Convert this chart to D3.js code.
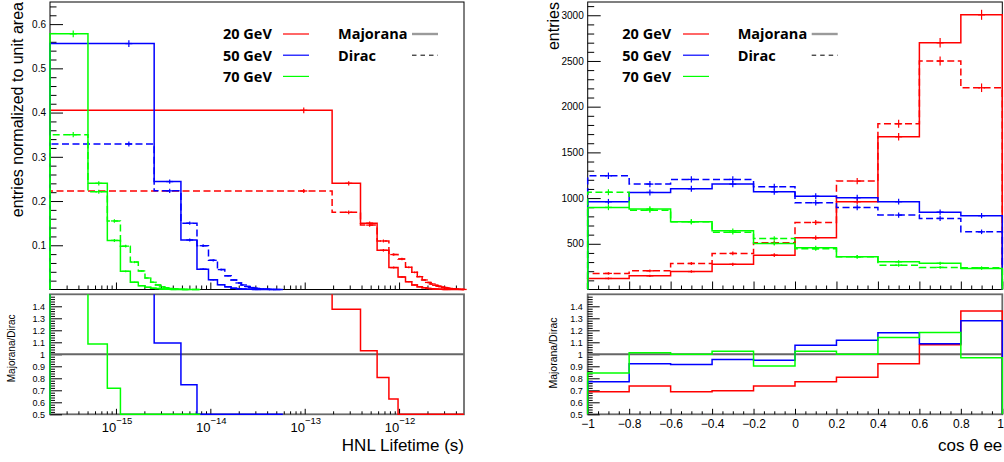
<!DOCTYPE html>
<html><head><meta charset="utf-8">
<script src="https://cdn.jsdelivr.net/npm/d3@7"></script>
<style>
html,body{margin:0;padding:0;background:#fff;}
svg{display:block;}
text{font-family:"Liberation Sans",Arial,Helvetica,sans-serif;fill:#000;}
text.leg{font-family:"Open Sans","Noto Sans",sans-serif;font-weight:700;}
</style></head><body>
<svg id="c" width="1004" height="462"></svg>
<script>
// ---------------- data ----------------
const massLabels = ["20 GeV", "50 GeV", "70 GeV"];
const typeLabels = ["Majorana", "Dirac"];

// HNL lifetime histograms (normalized to unit area), 25 bins each
const lifetimeBinStart = 2e-16;
const lifetimeBinWidth = [1.95e-13, 2.34e-15, 3.05e-16]; // 20, 50, 70 GeV
const lifetimeEntries = 10000;
const lifetimeMajorana20 = [0.405,0.240,0.150,0.0886,0.0495,0.0284,0.0178,0.0103,0.0060,0.0040,0.0025,0.0015,0.0010,0.0006,0.0004,0.0002,0.0001,0,0,0,0,0,0,0,0];
const lifetimeDirac20    = [0.2227,0.1745,0.1456,0.1097,0.0790,0.0690,0.0502,0.0389,0.0291,0.0216,0.0160,0.0125,0.0095,0.0075,0.0060,0.0045,0.0035,0.0025,0.0018,0.0012,0.0008,0.0005,0.0003,0.0002,0.0001];
const lifetimeMajorana50 = [0.556,0.244,0.112,0.046,0.022,0.011,0.006,0.003,0.0015,0.0010,0.0005,0.0003,0.0002,0.0001,0,0,0,0,0,0,0,0,0,0,0];
const lifetimeDirac50    = [0.329,0.223,0.150,0.099,0.066,0.045,0.031,0.0216,0.0148,0.0103,0.0070,0.0045,0.0030,0.0020,0.0013,0.0008,0.0005,0.0003,0.0002,0.0001,0,0,0,0,0];
const lifetimeMajorana70 = [0.578,0.240,0.111,0.041,0.0164,0.0087,0.0050,0.0030,0.0020,0.0010,0.0005,0.0003,0.0001,0,0,0,0,0,0,0,0,0,0,0,0];
const lifetimeDirac70    = [0.350,0.221,0.155,0.098,0.062,0.042,0.026,0.0164,0.0103,0.0060,0.0040,0.0025,0.0015,0.0010,0.0006,0.0003,0.0002,0.0001,0,0,0,0,0,0,0];

// cos theta ee histograms (entries)
const cosBinEdges = [-1,-0.8,-0.6,-0.4,-0.2,0,0.2,0.4,0.6,0.8,1];
const cosMajorana20 = [121,150,196,275,376,566,960,1671,2699,3005];
const cosDirac20    = [176,204,285,395,511,734,1186,1813,2499,2207];
const cosMajorana50 = [960,1062,1102,1153,1068,1020,1004,961,846,808];
const cosDirac50    = [1244,1153,1204,1204,1124,949,898,814,778,631];
const cosMajorana70 = [898,880,741,642,504,456,358,303,286,231];
const cosDirac70    = [1064,868,741,626,558,445,358,266,242,238];

// tick labels
const lifetimeTickExponents = [-15,-14,-13,-12];
const lifetimeYTicks = [0.1,0.2,0.3,0.4,0.5,0.6];
const ratioYTicks = [0.5,0.6,0.7,0.8,0.9,1,1.1,1.2,1.3,1.4];
const cosYTicks = [500,1000,1500,2000,2500,3000];
const cosXTicks = [-1,-0.8,-0.6,-0.4,-0.2,0,0.2,0.4,0.6,0.8,1];

// ---------------- layout ----------------
const svg = d3.select("#c");
const LP = {x0:50, x1:464}, RP = {x0:587.7, x1:1002.3};
const TOP = {y0:2, y1:289.5}, LOW = {y0:294.3, y1:414.3};
const colors = ["#ff0000", "#0000ff", "#00ff00"];
const DASH = "7,3.5";

const nL = lifetimeMajorana20.length;
const lifeEdges = lifetimeBinWidth.map(w => d3.range(nL + 1).map(k => lifetimeBinStart + k * w));
const xL = d3.scaleLog().domain([lifetimeBinStart, d3.max(lifeEdges, e => e[nL])]).range([LP.x0, LP.x1]);
const yL = d3.scaleLinear().domain([0, 0.65]).range([TOP.y1, TOP.y0]);
const yLR = d3.scaleLinear().domain([0.5, 1.5]).range([LOW.y1, LOW.y0]);
const xR = d3.scaleLinear().domain([cosBinEdges[0], cosBinEdges[cosBinEdges.length - 1]]).range([RP.x0, RP.x1]);
const yR = d3.scaleLinear().domain([0, 3145]).range([TOP.y1, TOP.y0]);
const yRR = yLR.copy();

const lifeMaj = [lifetimeMajorana20, lifetimeMajorana50, lifetimeMajorana70];
const lifeDir = [lifetimeDirac20, lifetimeDirac50, lifetimeDirac70];
const cosMaj = [cosMajorana20, cosMajorana50, cosMajorana70];
const cosDir = [cosDirac20, cosDirac50, cosDirac70];

// ---------------- helpers ----------------
function axis(gen, tx, ty, vals, size, fmt, fontSize, pad) {
  const g = svg.append("g").attr("transform", `translate(${tx},${ty})`);
  g.call(gen.tickValues(vals).tickSize(size).tickPadding(pad || 3).tickFormat(fmt || ""));
  g.select(".domain").remove();
  g.attr("font-family", null).attr("font-size", fontSize || 10);
  g.selectAll("line").attr("stroke", "#000").attr("stroke-width", 1);
  return g;
}
function minorLin(lo, hi, step, majorStep) {
  const out = [];
  const n = Math.round((hi - lo) / step);
  for (let i = 0; i <= n; i++) {
    const v = lo + i * step;
    const r = v / majorStep;
    if (Math.abs(r - Math.round(r)) > 1e-6) out.push(+v.toFixed(6));
  }
  return out;
}
function stepPath(edges, vals, xs, ys, lo) {
  const cl = v => Math.max(v, lo);
  let p = `M${xs(edges[0])},${ys(lo)}`;
  vals.forEach((v, i) => { p += `V${ys(cl(v))}H${xs(edges[i + 1])}`; });
  p += `V${ys(lo)}`;
  return p;
}
function drawHist(g, edges, vals, xs, ys, lo, color, dashed, errFn) {
  g.append("path").attr("d", stepPath(edges, vals, xs, ys, lo))
    .attr("fill", "none").attr("stroke", color).attr("stroke-width", 1.5)
    .attr("stroke-dasharray", dashed ? DASH : null);
  if (errFn) {
    vals.forEach((v, i) => {
      if (v <= 0) return;
      const c = xs((edges[i] + edges[i + 1]) / 2);
      const e = errFn(v);
      g.append("line").attr("x1", c).attr("x2", c).attr("y1", ys(v - e)).attr("y2", ys(v + e))
        .attr("stroke", color).attr("stroke-width", 1.2);
      g.append("line").attr("x1", c - 3.5).attr("x2", c + 3.5).attr("y1", ys(v)).attr("y2", ys(v))
        .attr("stroke", color).attr("stroke-width", 1.3);
    });
  }
}
const ratioFmt = d => d === 1 ? "1" : d3.format(".1f")(d);

// clip paths for ratio panels
const defs = svg.append("defs");
defs.append("clipPath").attr("id", "clipLR").append("rect")
  .attr("x", LP.x0 - 2).attr("y", LOW.y0).attr("width", LP.x1 - LP.x0 + 4).attr("height", LOW.y1 - LOW.y0 + 2);
defs.append("clipPath").attr("id", "clipRR").append("rect")
  .attr("x", RP.x0 - 2).attr("y", LOW.y0).attr("width", RP.x1 - RP.x0 + 4).attr("height", LOW.y1 - LOW.y0 + 2);

// ---------------- frames ----------------
function frame(P, Y, stroke, sw) {
  svg.append("rect").attr("x", P.x0).attr("y", Y.y0).attr("width", P.x1 - P.x0).attr("height", Y.y1 - Y.y0)
    .attr("fill", "none").attr("stroke", stroke).attr("stroke-width", sw);
}
frame(LP, TOP, "#000", 1);
frame(RP, TOP, "#000", 1);
frame(LP, LOW, "#6a6a6a", 1.8);
frame(RP, LOW, "#6a6a6a", 1.8);

// ---------------- axes: left ----------------
const logMajors = lifetimeTickExponents.map(e => Math.pow(10, e));
const logMinors = [];
for (let e = -16; e <= -12; e++) for (let k = 2; k <= 9; k++) {
  const v = k * Math.pow(10, e);
  if (v >= xL.domain()[0] && v <= xL.domain()[1]) logMinors.push(v);
}
axis(d3.axisLeft(yL), LP.x0, 0, lifetimeYTicks, -13, d3.format(".1f"), 10, 4);
axis(d3.axisLeft(yL), LP.x0, 0, minorLin(0, 0.64, 0.02, 0.1), -6.5, "", 10);
axis(d3.axisBottom(xL), 0, TOP.y1, logMajors, -7, "", 10);
axis(d3.axisBottom(xL), 0, TOP.y1, logMinors, -4, "", 10);

axis(d3.axisLeft(yLR), LP.x0, 0, ratioYTicks, -12, ratioFmt, 9, 5);
axis(d3.axisLeft(yLR), LP.x0, 0, minorLin(0.5, 1.5, 0.02, 0.1), -5, "", 9);
axis(d3.axisBottom(xL), 0, LOW.y1, logMajors, -5.5, "", 10);
axis(d3.axisBottom(xL), 0, LOW.y1, logMinors, -3, "", 10);

lifetimeTickExponents.forEach(e => {
  const t = svg.append("text").attr("x", xL(Math.pow(10, e)) + 1).attr("y", 431.5)
    .attr("text-anchor", "middle").attr("font-size", 13);
  t.append("tspan").text("10");
  t.append("tspan").attr("dy", -7.5).attr("font-size", 9.5).text("\u2212" + Math.abs(e));
});

// ---------------- axes: right ----------------
axis(d3.axisLeft(yR), RP.x0, 0, cosYTicks, -13, d3.format("d"), 10, 4);
axis(d3.axisLeft(yR), RP.x0, 0, minorLin(0, 3100, 100, 500), -6.5, "", 10);
axis(d3.axisBottom(xR), 0, TOP.y1, cosXTicks, -8, "", 10);
axis(d3.axisBottom(xR), 0, TOP.y1, minorLin(-1, 1, 0.05, 0.2), -4, "", 10);

axis(d3.axisLeft(yRR), RP.x0, 0, ratioYTicks, -12, ratioFmt, 9, 5);
axis(d3.axisLeft(yRR), RP.x0, 0, minorLin(0.5, 1.5, 0.02, 0.1), -5, "", 9);
const xLab = axis(d3.axisBottom(xR), 0, LOW.y1, cosXTicks, -5.5, d3.format("~g"), 12, 5);
// keep the last label inside the picture (it sits on the right frame edge)
xLab.selectAll(".tick").filter(d => d === cosXTicks[cosXTicks.length - 1])
  .select("text").attr("text-anchor", "end").attr("x", 1.2);
axis(d3.axisBottom(xR), 0, LOW.y1, minorLin(-1, 1, 0.05, 0.2), -3, "", 12);

// ---------------- reference lines ----------------
svg.append("line").attr("x1", LP.x0).attr("x2", LP.x1).attr("y1", yLR(1)).attr("y2", yLR(1))
  .attr("stroke", "#666").attr("stroke-width", 2);
svg.append("line").attr("x1", RP.x0).attr("x2", RP.x1).attr("y1", yRR(1)).attr("y2", yRR(1))
  .attr("stroke", "#666").attr("stroke-width", 2);

// ---------------- histograms ----------------
const gL = svg.append("g");
const gLR = svg.append("g").attr("clip-path", "url(#clipLR)");
const gR = svg.append("g");
const gRR = svg.append("g").attr("clip-path", "url(#clipRR)");

[0, 1, 2].forEach(m => {
  const errL = v => Math.sqrt(v / lifetimeEntries);
  drawHist(gL, lifeEdges[m], lifeDir[m], xL, yL, 0, colors[m], true, errL);
  drawHist(gL, lifeEdges[m], lifeMaj[m], xL, yL, 0, colors[m], false, errL);
  const rL = lifeMaj[m].map((v, i) => lifeDir[m][i] > 0 ? v / lifeDir[m][i] : 0);
  drawHist(gLR, lifeEdges[m], rL, xL, yLR, 0.5, colors[m], false, null);

  const errR = v => Math.sqrt(v);
  drawHist(gR, cosBinEdges, cosDir[m], xR, yR, 0, colors[m], true, errR);
  drawHist(gR, cosBinEdges, cosMaj[m], xR, yR, 0, colors[m], false, errR);
  const rR = cosMaj[m].map((v, i) => cosDir[m][i] > 0 ? v / cosDir[m][i] : 0);
  drawHist(gRR, cosBinEdges, rR, xR, yRR, 0.5, colors[m], false, null);
});

// ---------------- titles ----------------
svg.append("text").attr("transform", "translate(22.5,2) rotate(-90)").attr("text-anchor", "end")
  .attr("font-size", 16).text("entries normalized to unit area");
svg.append("text").attr("transform", "translate(558.5,2) rotate(-90)").attr("text-anchor", "end")
  .attr("font-size", 16).text("entries");
svg.append("text").attr("transform", "translate(15.3,348.3) rotate(-90)").attr("text-anchor", "middle")
  .attr("font-size", 10).text("Majorana/Dirac");
svg.append("text").attr("transform", "translate(557,353) rotate(-90)").attr("text-anchor", "middle")
  .attr("font-size", 10.5).text("Majorana/Dirac");
svg.append("text").attr("x", 464).attr("y", 450.5).attr("text-anchor", "end")
  .attr("font-size", 17).text("HNL Lifetime (s)");
svg.append("text").attr("x", 1002.3).attr("y", 450.5).attr("text-anchor", "end")
  .attr("font-size", 17).text("cos \u03B8 ee");

// ---------------- legends ----------------
function legend(tx, lx, typeX, typeLineX) {
  massLabels.forEach((lab, i) => {
    const by = 39.3 + i * 21.2;
    svg.append("text").attr("class", "leg").attr("x", tx).attr("y", by).attr("font-size", 14.5).text(lab);
    svg.append("line").attr("x1", lx).attr("x2", lx + 26).attr("y1", by - 5.3).attr("y2", by - 5.3)
      .attr("stroke", colors[i]).attr("stroke-width", 1.2);
  });
  typeLabels.forEach((lab, i) => {
    const by = 39.3 + i * 21.2;
    svg.append("text").attr("class", "leg").attr("x", typeX).attr("y", by).attr("font-size", 14.5).text(lab);
    svg.append("line").attr("x1", typeLineX).attr("x2", typeLineX + 26).attr("y1", by - 5.3).attr("y2", by - 5.3)
      .attr("stroke", i === 0 ? "#9a9a9a" : "#000")
      .attr("stroke-width", i === 0 ? 2.4 : 1)
      .attr("stroke-dasharray", i === 0 ? null : "4.5,4");
  });
}
legend(223, 283, 338, 412);
legend(622.3, 683, 737.7, 811.7);
</script>
</body></html>
